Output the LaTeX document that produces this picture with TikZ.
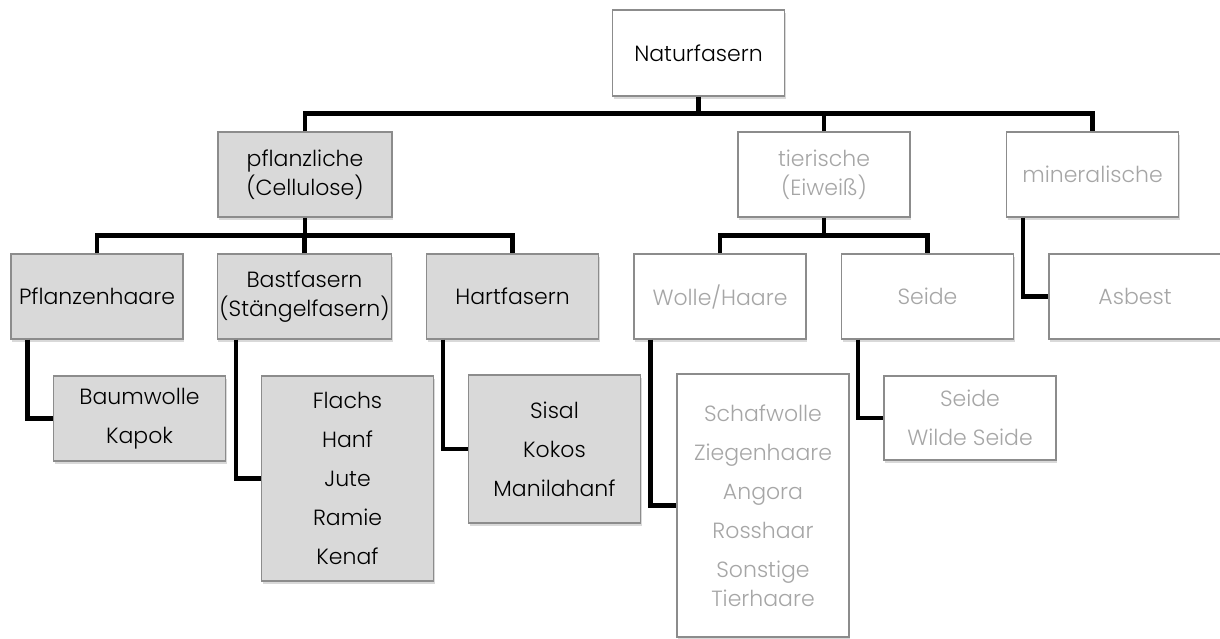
\documentclass[tikz,border=0pt]{standalone}
\usepackage{fontspec}
\setmainfont{Poppins}[UprightFont={* Light}]
\usetikzlibrary{shadows}
\definecolor{boxfill}{HTML}{D9D9D9}
\definecolor{boxline}{HTML}{8C8C8C}
\definecolor{lighttext}{HTML}{A6A6A6}
\tikzset{
  box/.style={draw=boxline, line width=1.2pt, minimum width=172pt, minimum height=85pt,
    align=center, inner sep=2pt, font=\fontsize{22}{29}\selectfont,
    drop shadow={opacity=0.3, shadow xshift=1pt, shadow yshift=-3pt}},
  plant/.style={box, fill=boxfill, text=black},
  other/.style={box, fill=white, text=lighttext},
  rootbox/.style={box, fill=white, text=black},
  conn/.style={draw=black, line width=4.5pt, line join=miter}
}
\begin{document}
\begin{tikzpicture}[x=1pt, y=-1pt]
\useasboundingbox (0,0) rectangle (1220,639);
% top level
\node[rootbox, minimum height=86pt] (root) at (698.5,53) {Naturfasern};
\node[plant, minimum width=174pt] (pfl) at (305,174.5) {pflanzliche\\(Cellulose)};
\node[other] (tier) at (824,174.5) {tierische\\(Eiweiß)};
\node[other] (min) at (1092.5,174.5) {mineralische};
% second level
\node[plant] (ph) at (97,296.5) {Pflanzenhaare};
\node[plant] (bast) at (304.5,296.5) {Bastfasern\\(Stängelfasern)};
\node[plant] (hart) at (512.5,296.5) {Hartfasern};
\node[other] (wolle) at (720,296.5) {Wolle/Haare};
\node[other] (seide) at (927.5,296.5) {Seide};
\node[other] (asb) at (1135,296.5) {Asbest};
% leaves
\node[plant] (baum) at (139.5,418.5) {Baumwolle\\[10pt]Kapok};
\node[plant, minimum height=205pt] (flachs) at (347.5,478.5) {Flachs\\[10pt]Hanf\\[10pt]Jute\\[10pt]Ramie\\[10pt]Kenaf};
\node[plant, minimum height=148pt] (sisal) at (554.5,449) {Sisal\\[10pt]Kokos\\[10pt]Manilahanf};
\node[other, minimum height=263pt] (schaf) at (763,505.5) {Schafwolle\\[10pt]Ziegenhaare\\[10pt]Angora\\[10pt]Rosshaar\\[10pt]Sonstige\\Tierhaare};
\node[other, minimum height=84pt] (seidek) at (970,418) {Seide\\[10pt]Wilde Seide};
% connectors level 1
\draw[conn] (root.south) -- ++(0,18);
\draw[conn] (pfl.north) -- ++(0,-18) -| (min.north);
\draw[conn] (tier.north) -- ++(0,-18);
% connectors level 2
\draw[conn] (pfl.south) -- ++(0,19);
\draw[conn] (ph.north) -- ++(0,-18) -| (hart.north);
\draw[conn] (bast.north) -- ++(0,-18);
\draw[conn] (tier.south) -- ++(0,19);
\draw[conn] (wolle.north) -- ++(0,-18) -| (seide.north);
% connectors to leaves
\draw[conn] ([xshift=17pt]ph.south west) |- (baum.west);
\draw[conn] ([xshift=19pt]bast.south west) |- (flachs.west);
\draw[conn] ([xshift=17pt]hart.south west) |- (sisal.west);
\draw[conn] ([xshift=17pt]wolle.south west) |- (schaf.west);
\draw[conn] ([xshift=17pt]seide.south west) |- (seidek.west);
\draw[conn] ([xshift=17pt]min.south west) |- (asb.west);
\end{tikzpicture}
\end{document}
